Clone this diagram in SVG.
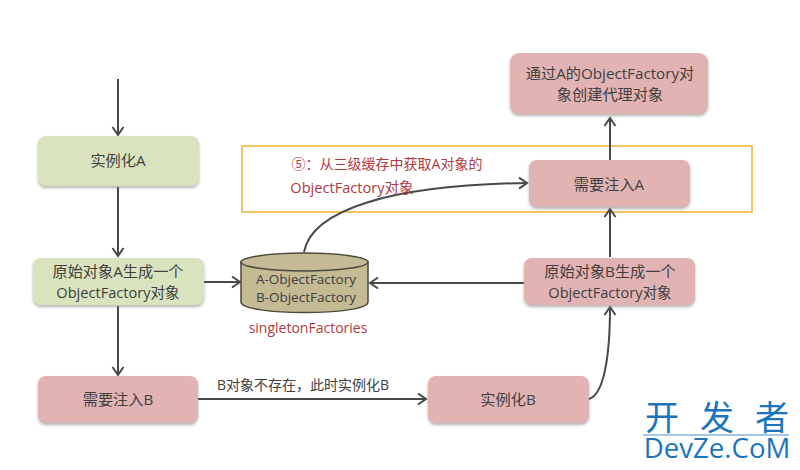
<svg xmlns="http://www.w3.org/2000/svg" width="800" height="470" viewBox="0 0 800 470">
<style>
text{font-family:"Open Sans","Noto Sans CJK SC",sans-serif;text-anchor:middle;fill:#404040}
.big{font-size:15.200px}
.m{font-size:14.600px}
.sm{font-size:13.500px}
.lab{font-size:14px}
.r{fill:#e2b3b3;filter:url(#s)}
.g{fill:#d9e4bf;filter:url(#s)}
.c{fill:none;stroke:#454a4d;stroke-width:2;marker-end:url(#a)}
text.red{fill:#b03a3e}
text.logo{fill:#1a75bc}
</style>
<defs>
<marker id="a" markerUnits="userSpaceOnUse" markerWidth="12" markerHeight="14" refX="10" refY="6.5" orient="auto"><path d="M2 1L10 6.5L2 12" fill="none" stroke="#454a4d" stroke-width="2"/></marker>
<filter id="s" x="-10%" y="-15%" width="120%" height="135%"><feDropShadow dx="0" dy="2" stdDeviation="1.500" flood-color="#808080" flood-opacity=".6"/></filter>
</defs>
<rect width="800" height="470" fill="#fff"/>
<rect x="242" y="146" width="510" height="66" fill="none" stroke="#f0b63c" stroke-width="1.600"/>
<g id="connectors">
<path class="c" d="M118 79V135"/>
<path class="c" d="M118 187V256"/>
<path class="c" d="M118 306V375"/>
<path class="c" d="M204 282H240"/>
<path class="c" d="M198 399H426"/>
<path class="c" d="M589 399C603 395 610 360 610 307"/>
<path class="c" d="M525 283H370"/>
<path class="c" d="M610 257V209"/>
<path class="c" d="M610 160V118"/>
<path class="c" d="M304 252C312 210 390 185 527 183"/>
</g>
<g id="n1"><rect class="g" x="38" y="136" width="161" height="50" rx="8"/><text class="big" x="118" y="166">实例化A</text></g>
<g id="n2"><rect class="g" x="33" y="258" width="171" height="47" rx="8"/><text class="big" x="118" y="277">原始对象A生成一个</text><text class="m" x="118" y="298">ObjectFactory对象</text></g>
<g id="n3"><rect class="r" x="38" y="376" width="160" height="47" rx="8"/><text class="big" x="118" y="405">需要注入B</text></g>
<g id="n4"><rect class="r" x="428" y="376" width="161" height="47" rx="8"/><text class="big" x="508" y="405">实例化B</text></g>
<g id="n5"><rect class="r" x="524" y="258" width="171" height="47" rx="8"/><text class="big" x="610" y="277">原始对象B生成一个</text><text class="m" x="610" y="298">ObjectFactory对象</text></g>
<g id="n6"><rect class="r" x="529" y="160" width="161" height="47" rx="8"/><text class="big" x="609" y="190">需要注入A</text></g>
<g id="n7"><rect class="r" x="510" y="53" width="198" height="61" rx="9"/><text class="big" x="610" y="79">通过A的ObjectFactory对</text><text class="big" x="610" y="100">象创建代理对象</text></g>
<g id="n8">
<path d="M241 262V302C241 316 368 316 368 302V262Z" fill="#c4ba93" stroke="#4a4a3a" stroke-width="1.500"/>
<ellipse cx="304.500" cy="262" rx="63.500" ry="9" fill="#c4ba93" stroke="#4a4a3a" stroke-width="1.500"/>
<text class="sm" x="306" y="284">A-ObjectFactory</text><text class="sm" x="306" y="302">B-ObjectFactory</text>
<text class="lab red" x="308" y="333">singletonFactories</text>
</g>
<text class="lab red" x="387" y="169">⑤：从三级缓存中获取A对象的</text>
<text class="m red" x="352" y="193">ObjectFactory对象</text>
<text class="lab" x="303" y="390">B对象不存在，此时实例化B</text>
<g id="logo">
<text class="logo" x="645 700 755" y="430" style="text-anchor:start;font-size:34px">开发者</text>
<line x1="643" y1="435" x2="789" y2="435" stroke="#1a75bc" stroke-width=".8"/>
<text class="logo" x="717" y="458" style="font-size:27.600px">DevZe.CoM</text>
</g>
</svg>
